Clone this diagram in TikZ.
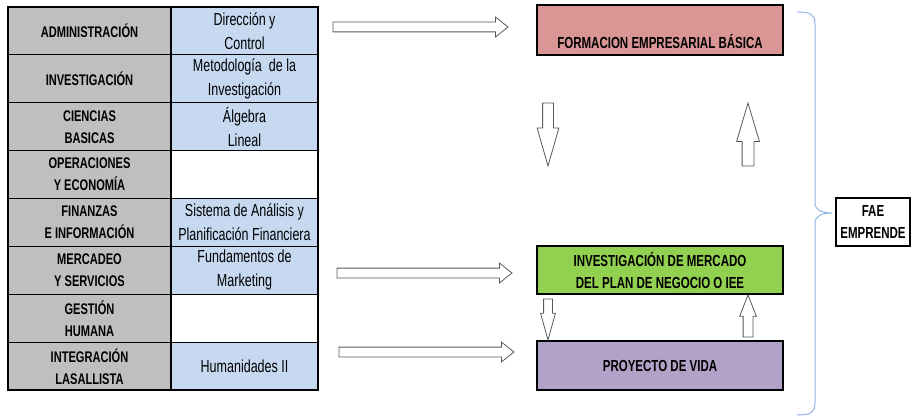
\documentclass[tikz,border=0pt]{standalone}
\usepackage{fontspec}
\setmainfont{Liberation Sans}[FakeStretch=0.72]
\usepackage{xcolor}
\usepackage{tikz}
\usetikzlibrary{positioning,shapes.arrows}

\definecolor{cellgray}{HTML}{BFBFBF}
\definecolor{cellblue}{HTML}{C6D9F1}
\definecolor{boxpink}{HTML}{D99694}
\definecolor{boxgreen}{HTML}{92D050}
\definecolor{boxlilac}{HTML}{B3A2C7}
\definecolor{bracecol}{HTML}{8EB4E3}

\begin{document}
\begin{tikzpicture}[x=1pt,y=-1pt,inner sep=0pt,outer sep=0pt]
    \tikzstyle{area}=[rectangle,draw=black,line width=1.2pt,fill=cellgray,minimum width=163pt,minimum height=48pt,align=center,font=\fontsize{15.4}{22}\selectfont\bfseries]
    \tikzstyle{course}=[area,minimum width=147pt,font=\fontsize{17.4}{24}\selectfont]
    \tikzstyle{stage}=[rectangle,draw=black,line width=1.5pt,minimum width=246pt,minimum height=49pt,align=center,font=\fontsize{16}{22}\selectfont\bfseries]
    \tikzstyle{blockarrow}=[single arrow,draw=black!65,fill=white,line width=0.8pt,text depth=0pt,single arrow head indent=0pt,anchor=tail]

    \useasboundingbox (0,0) rectangle (911,417);

    % table of areas and courses
    \foreach \i/\lbl/\crs/\tint in {
        1/ADMINISTRACIÓN/{Dirección y\\Control}/cellblue,
        2/INVESTIGACIÓN/{Metodología\ \ de la\\Investigación}/cellblue,
        3/{CIENCIAS\\BASICAS}/{Álgebra\\Lineal}/cellblue,
        4/{OPERACIONES\\Y ECONOMÍA}/{}/white,
        5/{FINANZAS\\E INFORMACIÓN}/{Sistema de Análisis y\\Planificación Financiera}/cellblue,
        6/{MERCADEO\\Y SERVICIOS}/{Fundamentos de\\Marketing}/cellblue,
        7/{GESTIÓN\\HUMANA}/{}/white,
        8/{INTEGRACIÓN\\LASALLISTA}/{Humanidades II}/cellblue} {
        \node[area] (a\i) at (89.5, {7+47.9*(\i-0.5)}) {\lbl};
        \node[course,fill=\tint,right=0pt of a\i] (c\i) {\crs};
    };
    \draw[line width=1.8pt] (a1.north west) rectangle (c8.south east);

    % stages
    \node[stage,fill=boxpink,minimum height=50pt] (feb) at (660,30) {\strut\\FORMACION EMPRESARIAL BÁSICA};
    \node[stage,fill=boxgreen,minimum height=48pt] (plan) at (660,270) {INVESTIGACIÓN DE MERCADO\\DEL PLAN DE NEGOCIO O IEE};
    \node[stage,fill=boxlilac] (vida) at (660,365.5) {PROYECTO DE VIDA};
    \node[stage,fill=white,minimum width=74pt,minimum height=48pt] (fae) at (873,222) {FAE\\EMPRENDE};

    % block arrows (placed by their tails)
    \node[blockarrow,text height=9pt,single arrow head extend=5pt,single arrow tip angle=77,minimum height=175pt] (in1) at (333,27) {};
    \node[blockarrow,text height=9pt,single arrow head extend=5pt,single arrow tip angle=77,minimum height=175pt] (in2) at (337,273) {};
    \node[blockarrow,text height=9pt,single arrow head extend=5pt,single arrow tip angle=77,minimum height=175pt] (in3) at (339,352) {};
    \node[blockarrow,rotate=-90,text height=10pt,single arrow head extend=5.5pt,single arrow tip angle=32,minimum height=63pt] (down1) at (548,103) {};
    \node[blockarrow,rotate=90,text height=11pt,single arrow head extend=5.5pt,single arrow tip angle=33,minimum height=63pt] (up1) at (748,166) {};
    \node[blockarrow,rotate=-90,text height=8pt,single arrow head extend=3pt,single arrow tip angle=31,minimum height=41pt] (down2) at (548,299) {};
    \node[blockarrow,rotate=90,text height=9pt,single arrow head extend=3.5pt,single arrow tip angle=43,minimum height=42pt] (up2) at (748,337) {};

    % brace
    \draw[bracecol,line width=1pt] (797,12) .. controls (810,12) and (815,14) .. (815,24) -- (815,203)
        .. controls (815,210) and (822,213) .. (832,213) .. controls (822,213) and (815,216) .. (815,223)
        -- (815,403) .. controls (815,413) and (810,415) .. (797,415);
\end{tikzpicture}
\end{document}
